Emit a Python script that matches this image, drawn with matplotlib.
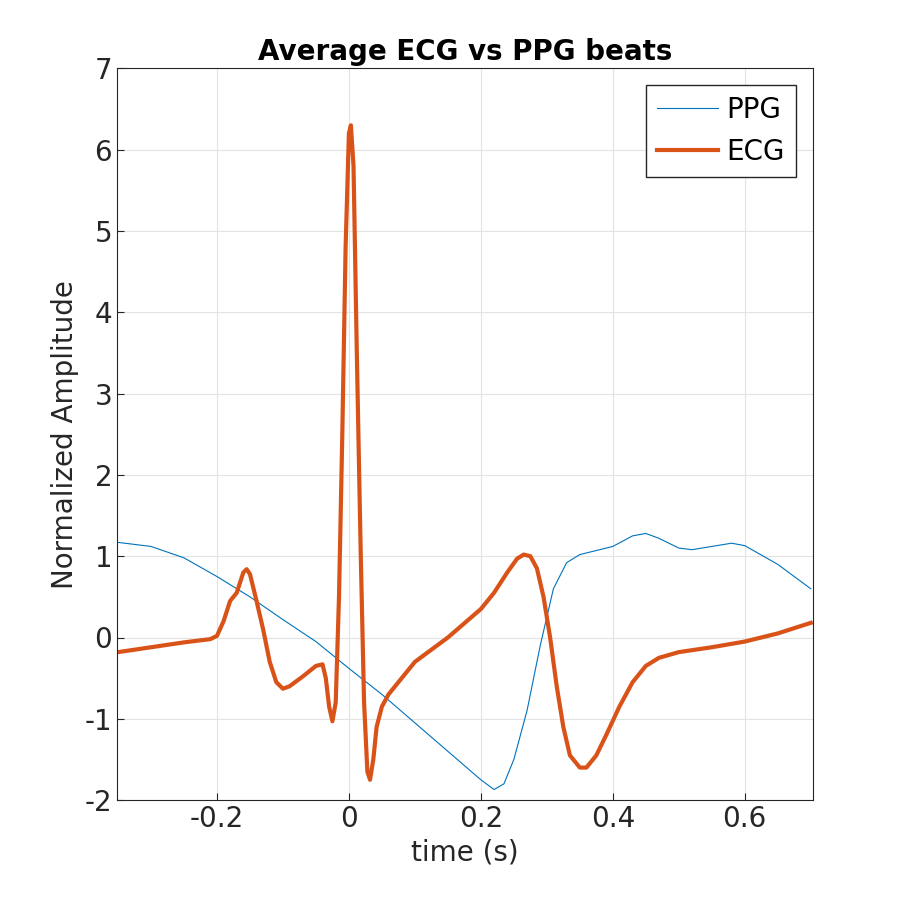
import matplotlib
matplotlib.use("Agg")
import matplotlib.pyplot as plt
plt.rcParams['axes.unicode_minus'] = False

ecg_t = [-0.35,-0.3,-0.25,-0.21,-0.2,-0.19,-0.18,-0.17,-0.16,-0.155,-0.15,-0.14,-0.13,-0.12,-0.11,-0.10,-0.09,-0.07,-0.05,-0.04,-0.035,-0.03,-0.025,-0.02,-0.015,-0.01,-0.005,0.0,0.003,0.007,0.012,0.018,0.023,0.028,0.032,0.037,0.042,0.05,0.06,0.08,0.1,0.15,0.2,0.22,0.24,0.255,0.265,0.275,0.285,0.295,0.305,0.315,0.325,0.335,0.35,0.36,0.375,0.39,0.41,0.43,0.45,0.47,0.5,0.55,0.6,0.65,0.70]
ecg_y = [-0.18,-0.12,-0.06,-0.02,0.02,0.2,0.45,0.55,0.8,0.84,0.78,0.45,0.1,-0.3,-0.55,-0.63,-0.6,-0.48,-0.35,-0.33,-0.5,-0.85,-1.03,-0.8,0.5,2.5,4.8,6.2,6.3,5.8,3.5,1.0,-0.8,-1.65,-1.75,-1.5,-1.1,-0.85,-0.7,-0.5,-0.3,0.0,0.35,0.55,0.8,0.97,1.02,1.0,0.85,0.5,0.0,-0.6,-1.1,-1.45,-1.6,-1.6,-1.45,-1.2,-0.85,-0.55,-0.35,-0.25,-0.18,-0.12,-0.05,0.05,0.18]
ppg_t = [-0.35,-0.3,-0.25,-0.2,-0.15,-0.1,-0.05,0.0,0.05,0.1,0.15,0.2,0.22,0.235,0.25,0.27,0.29,0.31,0.33,0.35,0.4,0.43,0.45,0.47,0.5,0.52,0.55,0.58,0.6,0.65,0.70]
ppg_y = [1.17,1.12,0.98,0.75,0.5,0.22,-0.05,-0.38,-0.7,-1.05,-1.4,-1.75,-1.87,-1.8,-1.5,-0.9,-0.1,0.6,0.92,1.02,1.12,1.25,1.28,1.22,1.1,1.08,1.12,1.16,1.13,0.9,0.6]

fig = plt.figure(figsize=(9, 9), dpi=100)
ax = fig.add_axes([0.13, 0.111, 0.773, 0.813])
ax.plot(ppg_t, ppg_y, color="#0072BD", lw=0.8, label="PPG")
ax.plot(ecg_t, ecg_y, color="#D95319", lw=3, label="ECG")
ax.set_xlim(-0.3515, 0.703)
ax.set_ylim(-2, 7)
ax.set_xticks([-0.2, 0, 0.2, 0.4, 0.6])
ax.set_xticklabels(["-0.2", "0", "0.2", "0.4", "0.6"])
ax.set_yticks(range(-2, 8))
ax.grid(True, color="#e3e3e3", lw=0.8)
ax.tick_params(labelsize=20, colors="#262626", direction="in", length=5)
for s in ax.spines.values():
    s.set_color("#262626")
ax.set_xlabel("time (s)", fontsize=20, color="#262626")
ax.set_ylabel("Normalized Amplitude", fontsize=20, color="#262626")
ax.set_title("Average ECG vs PPG beats", fontsize=20, fontweight="bold")
leg = ax.legend(loc="upper right", fontsize=20, fancybox=False, framealpha=1,
                edgecolor="#262626", handlelength=2.2, handletextpad=0.3,
                borderaxespad=0.6)
fig.savefig("out.png")
